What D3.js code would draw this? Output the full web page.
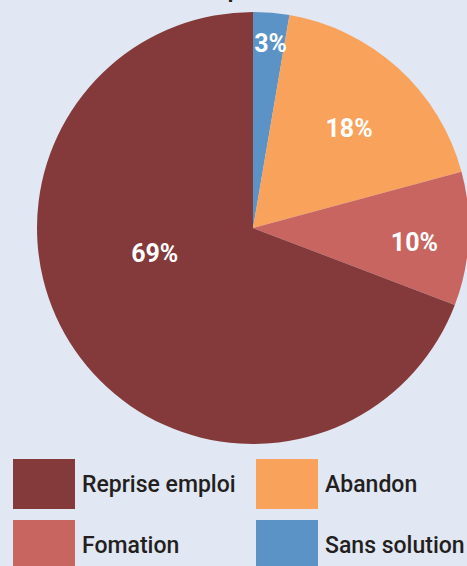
<!DOCTYPE html>
<html><head><meta charset="utf-8">
<script src="https://cdn.jsdelivr.net/npm/d3@7"></script>
<style>
html,body{margin:0;padding:0;background:#E1E7F3;}
svg{display:block;}
</style></head>
<body>
<svg id="c" width="467" height="566"></svg>
<script>
const categories = ["Sans solution", "Abandon", "Fomation", "Reprise emploi"];
const values = [2.7, 18.1, 10.0, 69.2];
const labels = ["3%", "18%", "10%", "69%"];
const colors = ["#5B93C7", "#F9A25B", "#C96560", "#843A3A"];
const legendOrder = ["Reprise emploi", "Abandon", "Fomation", "Sans solution"];

const svg = d3.select("#c");
const W = 467, H = 566;
svg.append("rect").attr("width", W).attr("height", H).attr("fill", "#E1E7F3");

// clipped title descender
svg.append("text").attr("x", 234).attr("y", -3).attr("text-anchor", "middle")
  .attr("font-family", "Roboto").attr("font-weight", 700).attr("font-size", 22)
  .attr("fill", "#231F20").text("p");

const cx = 253, cy = 228, R = 216;
const pie = d3.pie().sort(null).value(d => d);
const arcs = pie(values);
const arc = d3.arc().innerRadius(0).outerRadius(R);
const color = d3.scaleOrdinal().domain(categories).range(colors);

const g = svg.append("g").attr("transform", `translate(${cx},${cy})`);
g.selectAll("path").data(arcs).join("path")
  .attr("d", arc).attr("fill", (d, i) => color(categories[i]));

// label placement (radius fraction, angle offset in degrees)
const labelPlace = [[0.86, 0.6], [0.64, 1.7], [0.75, 2], [0.47, 20]];
g.selectAll("text.lbl").data(arcs).join("text").attr("class", "lbl")
  .attr("transform", (d, i) => {
    const a = (d.startAngle + d.endAngle) / 2 + labelPlace[i][1] * Math.PI / 180;
    const r = R * labelPlace[i][0];
    return `translate(${r * Math.sin(a)},${-r * Math.cos(a)})`;
  })
  .attr("text-anchor", "middle").attr("dy", "0.35em")
  .attr("font-family", "Roboto").attr("font-weight", 700).attr("font-size", 25)
  .attr("fill", "#FFFFFF").text((d, i) => labels[i]);

// legend
const lx = d3.scaleOrdinal().domain([0, 1]).range([13, 256]);
const ly = d3.scaleOrdinal().domain([0, 1]).range([459, 520]);
const leg = svg.selectAll("g.leg").data(legendOrder).join("g").attr("class", "leg")
  .attr("transform", (d, i) => `translate(${lx(i % 2)},${ly(Math.floor(i / 2))})`);
leg.append("rect").attr("width", 62).attr("height", 50).attr("fill", d => color(d));
leg.append("text").attr("x", 69).attr("y", 33)
  .attr("font-family", "Roboto").attr("font-weight", 500).attr("font-size", 23)
  .attr("fill", "#231F20").text(d => d);
</script>
</body></html>
